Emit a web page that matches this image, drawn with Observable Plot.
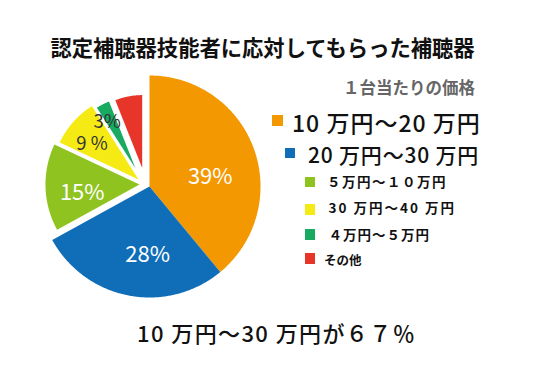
<!DOCTYPE html>
<html><head><meta charset="utf-8">
<script src="https://cdn.jsdelivr.net/npm/d3@7"></script>
<script src="https://cdn.jsdelivr.net/npm/@observablehq/plot@0.6"></script>
<style>
body{margin:0;background:#fff;}
#c{position:relative;width:538px;height:378px;overflow:hidden;font-family:"Noto Sans CJK JP","Noto Sans",sans-serif;color:#111;}
#c svg{position:absolute;left:0;top:0}
.t{position:absolute;white-space:nowrap;line-height:1;transform:translateY(-50%);}
.sq{position:absolute;}
</style></head>
<body><div id="c"></div>
<script>
// ---- data ----
const categories = ["10万円～20万円","20万円～30万円","5万円～10万円","30万円～40万円","4万円～5万円","その他"];
const legendLabels = ["10 万円～20 万円","20 万円～30 万円","５万円～１０万円","30 万円～40 万円","４万円～５万円","その他"];
const shares = [39, 28, 15, 9, 3, 6];
const shareLabels = ["39%","28%","15%","9 %","3%",""];
const colors = ["#F39800","#106EB8","#8FC31F","#F6EA14","#17AA60","#E8352A"];
const titleText = "認定補聴器技能者に応対してもらった補聴器";
const subtitleText = "１台当たりの価格";
const footText = "10 万円～30 万円が６７％";

// ---- layout ----
const W = 538, H = 378;
const cx = 149, cy = 186;
const radii = [111, 111, 94, 87, 72, 73];
const explode = [[0,0],[0,0],[-10,-2],[-11,-7],[-14,-18],[-7.3,-18.4]];
const labelNudge = [[-4,14],[11,1],[1,7],[-6,0],[-8,-7],[0,0]];

const arcs = d3.pie().sort(null).value(d => d)(shares);
const pts = [];
const labels = [];
arcs.forEach((a, i) => {
  const [ox, oy] = explode[i];
  const R = radii[i];
  const c = categories[i];
  pts.push({cat: c, x: cx + ox, y: cy + oy});
  const n = Math.max(2, Math.ceil((a.endAngle - a.startAngle) / 0.01));
  for (let k = 0; k <= n; k++) {
    const t = a.startAngle + (a.endAngle - a.startAngle) * k / n;
    pts.push({cat: c, x: cx + ox + R * Math.sin(t), y: cy + oy - R * Math.cos(t)});
  }
  const m = (a.startAngle + a.endAngle) / 2, rl = R * 0.62;
  labels.push({text: shareLabels[i], light: i < 3,
    x: cx + ox + rl * Math.sin(m) + labelNudge[i][0],
    y: cy + oy - rl * Math.cos(m) + labelNudge[i][1]});
});

const chart = Plot.plot({
  width: W, height: H, margin: 0,
  x: {domain: [0, W], range: [0, W], axis: null},
  y: {domain: [0, H], range: [0, H], axis: null},
  color: {domain: categories, range: colors},
  marks: [
    Plot.line(pts, {x: "x", y: "y", z: "cat", fill: "cat", stroke: "none", curve: "linear-closed"}),
    Plot.text(labels.filter(d => d.light), {x: "x", y: "y", text: "text", fill: "white", fontSize: 22, fontFamily: "Noto Sans CJK JP"}),
    Plot.text(labels.filter(d => !d.light && d.text), {x: "x", y: "y", text: "text", fill: "#333", fontSize: 18.5, fontFamily: "Noto Sans CJK JP"})
  ]
});
const root = document.getElementById("c");
root.appendChild(chart);

function addText(txt, style) {
  const d = document.createElement("div");
  d.className = "t";
  d.textContent = txt;
  Object.assign(d.style, style);
  root.appendChild(d);
  return d;
}
addText(titleText, {left: "262.5px", top: "47px", fontSize: "21.3px", fontWeight: "bold", transform: "translate(-50%,-50%)"});
addText(subtitleText, {right: "63px", top: "87px", fontSize: "16.5px", fontWeight: "bold", color: "#666"});
addText(footText, {left: "137px", top: "332px", fontSize: "22px", fontWeight: "500", letterSpacing: "1.4px"});

const legendLayout = [
  {sx: 272, sy: 115, s: 11, tx: 292, ty: 122, fs: 23, fw: "500", ls: 1},
  {sx: 285, sy: 148, s: 10, tx: 308, ty: 153.5, fs: 21, fw: "500", ls: 0.8},
  {sx: 304.5, sy: 176.5, s: 10.5, tx: 327, ty: 182, fs: 13.5, fw: "bold", ls: 1.5},
  {sx: 304.5, sy: 204, s: 10.5, tx: 328.5, ty: 207.5, fs: 13.5, fw: "bold", ls: 2},
  {sx: 304.5, sy: 229, s: 10.5, tx: 328.5, ty: 234.5, fs: 13.5, fw: "bold", ls: 1},
  {sx: 304.5, sy: 253, s: 10.5, tx: 324, ty: 260, fs: 12.5, fw: "bold", ls: 0}
];
legendLabels.forEach((lab, i) => {
  const L = legendLayout[i];
  const sq = document.createElement("div");
  sq.className = "sq";
  Object.assign(sq.style, {left: L.sx + "px", top: L.sy + "px", width: L.s + "px", height: L.s + "px", background: colors[i]});
  root.appendChild(sq);
  addText(lab, {left: L.tx + "px", top: L.ty + "px", fontSize: L.fs + "px", fontWeight: L.fw, letterSpacing: L.ls + "px"});
});
</script>
</body></html>
